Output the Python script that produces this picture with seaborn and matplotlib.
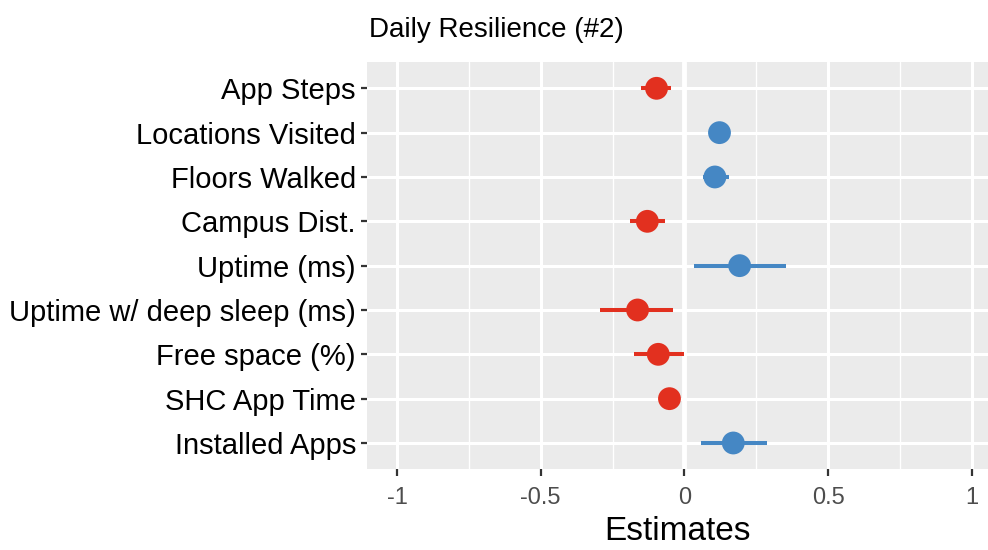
import pandas as pd
import seaborn as sns
import matplotlib.pyplot as plt

# values
terms = ["App Steps", "Locations Visited", "Floors Walked", "Campus Dist.",
         "Uptime (ms)", "Uptime w/ deep sleep (ms)", "Free space (%)",
         "SHC App Time", "Installed Apps"]
estimates = [-0.097, 0.122, 0.106, -0.129, 0.192, -0.163, -0.091, -0.052, 0.170]
ci_low = [-0.150, 0.100, 0.063, -0.188, 0.032, -0.292, -0.177, -0.065, 0.058]
ci_high = [-0.048, 0.145, 0.155, -0.068, 0.355, -0.040, -0.003, -0.040, 0.286]
x_ticks = [-1, -0.5, 0, 0.5, 1]
x_ticklabels = ["-1", "-0.5", "0", "0.5", "1"]

df = pd.DataFrame({"term": terms, "estimate": estimates,
                   "lo": ci_low, "hi": ci_high})
df["sign"] = ["pos" if e > 0 else "neg" for e in df["estimate"]]
colors = {"pos": "#4587C4", "neg": "#E2301F"}

sns.set_style("darkgrid", {"axes.facecolor": "#EBEBEB", "grid.color": "white",
                           "text.color": "black", "axes.labelcolor": "black"})
plt.rcParams["font.family"] = ["Liberation Sans", "DejaVu Sans"]

fig = plt.figure(figsize=(9.88, 5.5), dpi=100)
ax = fig.add_axes([0.3715, 0.147, 0.6285, 0.740])

ax.hlines(df["term"], df["lo"], df["hi"],
          colors=[colors[s] for s in df["sign"]], linewidth=2.9, zorder=3)
sns.scatterplot(data=df, x="estimate", y="term", hue="sign", palette=colors,
                s=270, linewidth=0, legend=False, ax=ax, zorder=4)

ax.set_xlim(-1.104, 1.056)
ax.set_ylim(len(terms) - 1 + 0.59, -0.59)

ax.set_xticks(x_ticks)
ax.set_xticklabels(x_ticklabels)
ax.set_xticks([-0.75, -0.25, 0.25, 0.75], minor=True)
ax.grid(which="major", color="white", linewidth=2.2)
ax.grid(which="minor", axis="x", color="white", linewidth=1.0)
ax.axvline(0, color="white", linewidth=3.5, zorder=1)
for sp in ax.spines.values():
    sp.set_visible(False)

ax.tick_params(axis="y", which="major", length=4, width=1.6, color="#333333",
               labelsize=21, labelcolor="black", pad=4, left=True)
ax.tick_params(axis="x", which="major", length=5, width=1.6, color="#333333",
               labelsize=17, labelcolor="#4D4D4D", pad=8, bottom=True)
ax.tick_params(axis="x", which="minor", length=0)

ax.set_xlabel("Estimates", fontsize=24, labelpad=5, color="black")
ax.set_ylabel("")
fig.text(0.3735, 0.933, "Daily Resilience (#2)", fontsize=20, color="black",
         ha="left", va="baseline")

fig.savefig("out.png", dpi=100)
